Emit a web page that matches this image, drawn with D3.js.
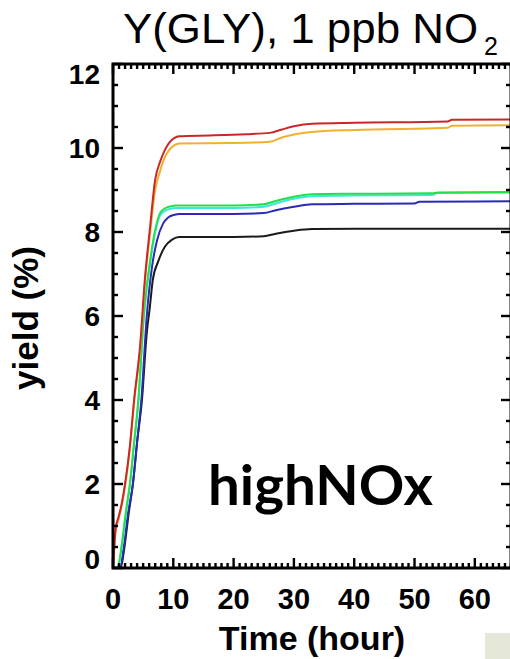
<!DOCTYPE html>
<html>
<head>
<meta charset="utf-8">
<script src="https://cdn.jsdelivr.net/npm/d3@7"></script>
<style>
  html, body { margin: 0; padding: 0; background: #ffffff; }
  svg { display: block; }
</style>
</head>
<body>
<svg id="chart" width="510" height="659"></svg>
<script>
// Glyoxal yield under high-NOx, 1 ppb NO2: one curve per model case, [hour, yield %]
const redSeries = [[0,0],[0.45,0.95],[0.9,1.2],[1.4,1.5],[2,2.0],[2.8,2.9],[3.5,4.0],[4.5,5.3],[5.3,6.9],[6.1,8.05],[7,9.25],[7.8,9.67],[8.5,9.92],[9.3,10.12],[10.2,10.24],[11,10.28],[16,10.3],[22,10.33],[26,10.36],[28,10.44],[30,10.52],[33,10.58],[40,10.6],[55.5,10.63],[56.2,10.67],[66,10.68]];
const orangeSeries = [[0,0],[0.45,0.9],[0.9,1.15],[1.4,1.45],[2,1.95],[2.8,2.85],[3.5,3.95],[4.5,5.2],[5.3,6.8],[6.1,7.9],[7,9.0],[7.8,9.45],[8.5,9.75],[9.3,9.95],[10.2,10.07],[11,10.11],[20,10.12],[26,10.15],[28,10.25],[30,10.32],[33,10.38],[40,10.43],[55.5,10.48],[56.2,10.53],[66,10.54]];
const greenSeries = [[0,0],[0.8,0.03],[1.5,0.6],[2.2,1.4],[2.8,2.0],[3.5,3.0],[4.2,4.0],[5.1,6.0],[6.1,7.26],[7,8.05],[7.8,8.45],[8.6,8.56],[9.5,8.61],[10.5,8.63],[20,8.63],[25,8.66],[27,8.74],[30,8.84],[33,8.9],[40,8.91],[53,8.92],[53.8,8.94],[66,8.95]];
const cyanSeries = [[0,0],[0.8,0.03],[1.5,0.58],[2.2,1.37],[2.8,1.97],[3.5,2.95],[4.2,3.95],[5.1,5.95],[6.1,7.2],[7,8.0],[7.8,8.39],[8.6,8.5],[9.5,8.55],[10.5,8.57],[20,8.57],[25,8.6],[27,8.68],[30,8.79],[33,8.85],[40,8.87],[53,8.88],[53.8,8.93],[66,8.94]];
const blueSeries = [[0,0],[1.2,0.02],[1.8,0.5],[2.5,1.3],[3.3,2.0],[4,3.0],[4.7,4.0],[5.6,6.0],[6.5,7.2],[7.3,7.8],[8.3,8.2],[9.2,8.35],[10.2,8.41],[11,8.43],[20,8.43],[25,8.45],[27,8.52],[30,8.6],[33,8.66],[40,8.67],[50,8.68],[50.8,8.72],[66,8.73]];
const blackSeries = [[0,0],[1.3,0.02],[1.9,0.5],[2.6,1.3],[3.3,2.0],[4,3.0],[4.8,4.0],[5.6,5.6],[6.1,6.2],[6.6,6.86],[7.5,7.3],[8.6,7.65],[9.8,7.82],[11,7.88],[20,7.88],[25,7.9],[27,7.96],[30,8.03],[33,8.07],[45,8.08],[66,8.08]];

const seriesList = [blackSeries, blueSeries, cyanSeries, greenSeries, orangeSeries, redSeries];
const seriesColors = ["#1a1a1a", "#2a2ab4", "#3ee6e0", "#22e04a", "#f0b030", "#c8282a"];

const xTickValues = [0, 10, 20, 30, 40, 50, 60];
const yTickValues = [0, 2, 4, 6, 8, 10, 12];
const xDomain = [0, 66];
const yDomain = [0, 12];

const titleMain = "Y(GLY), 1 ppb NO";
const titleSub = "2";
const xTitle = "Time (hour)";
const yTitle = "yield (%)";
const caseLabel = "highNOx";

const svg = d3.select("#chart");
const plot = { left: 113, right: 511, top: 64, bottom: 568 };

const x = d3.scaleLinear().domain(xDomain).range([plot.left, plot.right]);
const y = d3.scaleLinear().domain(yDomain).range([plot.bottom, plot.top]);

const labelFont = "'Liberation Sans', Arial, Helvetica, sans-serif";

// corner swatch at lower right
svg.append("rect")
  .attr("x", 485).attr("y", 633).attr("width", 25).attr("height", 26)
  .attr("fill", "#e5e7d8");

svg.append("clipPath").attr("id", "plot-clip")
  .append("rect")
  .attr("x", plot.left).attr("y", plot.top - 2)
  .attr("width", plot.right - plot.left).attr("height", plot.bottom - plot.top + 2);

// curves
const line = d3.line()
  .x(d => x(d[0]))
  .y(d => y(d[1]))
  .curve(d3.curveMonotoneX);

const curves = svg.append("g").attr("clip-path", "url(#plot-clip)");
seriesList.forEach((s, i) => {
  curves.append("path")
    .datum(s)
    .attr("d", line)
    .attr("fill", "none")
    .attr("stroke", seriesColors[i])
    .attr("stroke-width", 2)
    .attr("stroke-linejoin", "round");
});

// frame
svg.append("rect")
  .attr("x", plot.left).attr("y", plot.top)
  .attr("width", plot.right - plot.left).attr("height", plot.bottom - plot.top)
  .attr("fill", "none").attr("stroke", "#000").attr("stroke-width", 3);

// ticks on all four sides, pointing inward, drawn over the frame
const xMinor = d3.range(0, 67, 1).filter(v => v % 10 !== 0);
const yMinor = d3.range(0, 12.01, 0.5).filter(v => v % 2 !== 0);

const tickSets = [
  { axis: "x", values: xMinor, len: 5 },
  { axis: "x", values: xTickValues, len: 10 },
  { axis: "y", values: yMinor, len: 5 },
  { axis: "y", values: yTickValues, len: 10 }
];
const tickLayer = svg.append("g").attr("fill", "#000");
tickSets.forEach(set => {
  set.values.forEach(v => {
    if (set.axis === "x") {
      const px = x(v);
      tickLayer.append("rect").attr("x", px - 1.2).attr("y", plot.bottom - set.len)
        .attr("width", 2.4).attr("height", set.len);
      tickLayer.append("rect").attr("x", px - 1.2).attr("y", plot.top)
        .attr("width", 2.4).attr("height", set.len);
    } else {
      const py = y(v);
      tickLayer.append("rect").attr("x", plot.left).attr("y", py - 1.2)
        .attr("width", set.len).attr("height", 2.4);
      tickLayer.append("rect").attr("x", plot.right - set.len).attr("y", py - 1.2)
        .attr("width", set.len).attr("height", 2.4);
    }
  });
});

// y tick labels (end labels sit inside the frame)
svg.append("g").selectAll("text")
  .data(yTickValues)
  .join("text")
  .attr("x", 100)
  .attr("y", d => y(d) + (d === yDomain[0] ? -9 : d === yDomain[1] ? 10 : 0))
  .attr("dy", "0.36em")
  .attr("text-anchor", "end")
  .attr("font-family", labelFont)
  .attr("font-weight", "bold")
  .attr("font-size", 28)
  .text(d => d);

// x tick labels
svg.append("g").selectAll("text")
  .data(xTickValues)
  .join("text")
  .attr("x", d => x(d))
  .attr("y", 609)
  .attr("text-anchor", "middle")
  .attr("font-family", labelFont)
  .attr("font-weight", "bold")
  .attr("font-size", 29)
  .text(d => d);

// axis titles
svg.append("text")
  .attr("x", 312).attr("y", 650)
  .attr("text-anchor", "middle")
  .attr("font-family", labelFont)
  .attr("font-weight", "bold")
  .attr("font-size", 34)
  .text(xTitle);

svg.append("text")
  .attr("transform", "translate(38,318) rotate(-90)")
  .attr("text-anchor", "middle")
  .attr("font-family", labelFont)
  .attr("font-weight", "bold")
  .attr("font-size", 35)
  .text(yTitle);

// title with subscript
const title = svg.append("text")
  .attr("y", 43)
  .attr("font-family", labelFont)
  .attr("font-size", 42)
  .attr("fill", "#000");
title.append("tspan")
  .attr("x", 123)
  .attr("textLength", 355)
  .attr("lengthAdjust", "spacingAndGlyphs")
  .text(titleMain);
title.append("tspan")
  .attr("x", 484)
  .attr("y", 55)
  .attr("font-size", 25)
  .text(titleSub);

// case label inside the plot
svg.append("text")
  .attr("x", 208).attr("y", 505)
  .attr("font-family", "Lato, 'Open Sans', sans-serif")
  .attr("font-weight", "bold")
  .attr("font-size", 56)
  .attr("textLength", 225)
  .attr("lengthAdjust", "spacingAndGlyphs")
  .text(caseLabel);
</script>
</body>
</html>
